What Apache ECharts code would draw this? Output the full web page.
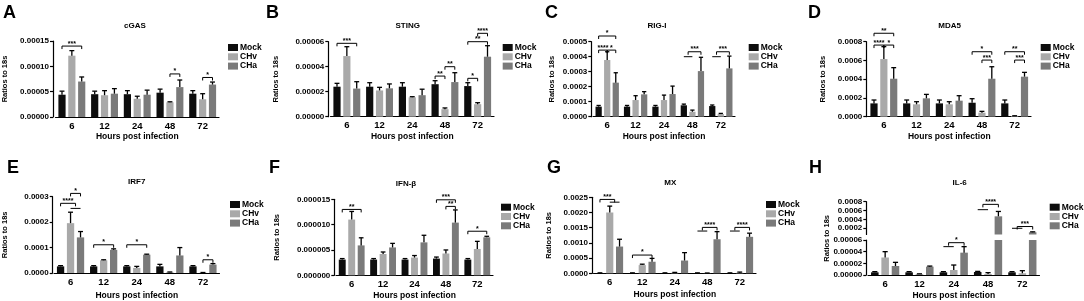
<!DOCTYPE html>
<html><head><meta charset="utf-8">
<script src="https://cdn.jsdelivr.net/npm/echarts@6/dist/echarts.min.js"></script>
<style>html,body{margin:0;padding:0;background:#fff}#c{width:1084px;height:301px}</style>
</head><body><div id="c"></div>
<script>
// ---------- DATA ----------
const categories = ['6', '12', '24', '48', '72'];
const groups = ['Mock', 'CHv', 'CHa'];
const xName = 'Hours post infection';
const yName = 'Ratios to 18s';

// rows: Mock, CHv, CHa ; columns: 6,12,24,48,72 h
const cGAS_means = [[0.000044,0.000045,0.000045,0.000048,0.000046],[0.000121,0.000043,0.000036,0.000029,0.000035],[0.000070,0.000046,0.000044,0.000059,0.000064]];
const cGAS_upper = [[0.000051,0.000051,0.000052,0.000055,0.000052],[0.000131,0.000052,0.000041,0.000030,0.000046],[0.000079,0.000056,0.000053,0.000073,0.000069]];
const cGAS_sig = [[0,0,2,0.00014,'***'],[3,1,2,0.000085,'*'],[4,1,2,0.000078,'*']];
const cGAS_ticks = [0,0.00005,0.0001,0.00015];

const STING_means = [[0.000024,0.000024,0.000024,0.000026,0.0000245],[0.0000485,0.000021,0.0000155,0.000006,0.00001],[0.0000225,0.0000227,0.0000172,0.0000277,0.000048]];
const STING_upper = [[0.0000267,0.0000272,0.0000272,0.0000288,0.0000272],[0.000056,0.0000235,0.000016,0.000007,0.0000112],[0.000028,0.0000262,0.000022,0.0000352,0.0000568]];
const STING_sig = [[0,0,2,0.0000587,'***'],[3,0,1,0.0000325,'**'],[3,1,2,0.00004,'**'],[4,0,1,0.0000307,'*'],[4,0,2,0.00006,'**'],[4,1,2,0.0000667,'****']];
const STING_ticks = [0,0.00002,0.00004,0.00006];

const RIGI_means = [[0.000067,0.000067,0.000067,0.000076,0.000071],[0.000378,0.000111,0.000111,0.000033,0.000018],[0.000227,0.000149,0.000151,0.000304,0.000322]];
const RIGI_upper = [[0.000075,0.000075,0.000075,0.000084,0.000078],[0.000433,0.00014,0.000144,0.000044,0.000022],[0.000293,0.000167,0.000204,0.000396,0.000404]];
const RIGI_sig = [[0,0,1,0.000444,'****'],[0,1,2,0.000444,'*'],[0,0,2,0.000538,'*'],[3,0,1,0.0004,null],[3,0.5,2,0.000433,'***'],[4,0,1,0.0004,null],[4,0.5,2,0.000433,'***']];
const RIGI_ticks = [0,0.0001,0.0002,0.0003,0.0004,0.0005];

const MDA5_means = [[0.000142,0.000142,0.000142,0.000149,0.000142],[0.000615,0.000132,0.000132,0.000043,0.000007],[0.000405,0.000196,0.000171,0.000405,0.000427]];
const MDA5_upper = [[0.000178,0.000178,0.000178,0.000192,0.000178],[0.000747,0.00016,0.00016,0.000057,0.00001],[0.000523,0.000238,0.000224,0.000533,0.000473]];
const MDA5_sig = [[0,0,1,0.000764,'****'],[0,1,2,0.000764,'*'],[0,0,2,0.00089,'**'],[3,0,2,0.000693,'*'],[3,1,2,0.000604,'***'],[4,0,2,0.000693,'**'],[4,1,2,0.000604,'***']];
const MDA5_ticks = [0,0.0002,0.0004,0.0006,0.0008];

const IRF7_means = [[0.000026,0.000026,0.000026,0.000026,0.000026],[0.000196,0.00005,0.00002,0.000003,0.000001],[0.00014,0.000091,0.000072,0.000069,0.000033]];
const IRF7_upper = [[0.000029,0.000029,0.000029,0.000034,0.000029],[0.000239,0.000052,0.000026,0.000004,0.000002],[0.000163,0.000095,0.000074,0.0001,0.000037]];
const IRF7_sig = [[0,1,2,0.000313,'*'],[0,0,1.5,0.000274,'****'],[0,1,2,0.000254,null],[1,0,2,0.000111,'*'],[2,0,2,0.000111,'*'],[4,1,2,0.000052,'*']];
const IRF7_ticks = [0,0.0001,0.0002,0.0003];

const IFNB_means = [[0.0000031,0.0000031,0.0000031,0.0000033,0.0000031],[0.000011,0.0000042,0.0000035,0.0000043,0.0000052],[0.0000059,0.0000055,0.0000065,0.0000104,0.0000075]];
const IFNB_upper = [[0.0000033,0.0000033,0.0000033,0.0000036,0.0000033],[0.0000126,0.0000046,0.0000039,0.000005,0.0000067],[0.0000074,0.0000063,0.0000079,0.0000129,0.0000077]];
const IFNB_sig = [[0,0,2,0.000013,'**'],[3,0,2,0.0000149,'***'],[3,1,2,0.0000136,'**'],[4,0,2,0.0000087,'*']];
const IFNB_ticks = [0,0.000005,0.00001,0.000015];

const MX_means = [[0.00001,0.00001,0.00001,0.00001,0.00001],[0.002,0.00027,0.00002,0.000005,0.00002],[0.00088,0.00038,0.00042,0.00112,0.0012]];
const MX_upper = [[0.000015,0.000015,0.000015,0.000015,0.000015],[0.00221,0.0003,0.00003,0.00001,0.00004],[0.00112,0.00049,0.00068,0.00137,0.00132]];
const MX_sig = [[0,0,1.5,0.00243,'***'],[0,1,2,0.00234,null],[1,0,2,0.0006,'*'],[3,0,1,0.00139,null],[3,0.5,2,0.00151,'****'],[4,0,1,0.00139,null],[4,0.5,2,0.00151,'****']];
const MX_ticks = [0,0.0005,0.001,0.0015,0.002,0.0025];

const IL6_means = [[0.0000046,0.0000046,0.0000046,0.0000051,0.0000046],[0.00003,0.0000017,0.0000086,0.0000017,0.000003],[0.0000154,0.0000143,0.0000383,0.00047,0.00011]];
const IL6_upper = [[0.0000057,0.0000057,0.0000057,0.0000062,0.0000057],[0.00004,0.000002,0.0000171,0.000004,0.0000074],[0.0000217,0.0000153,0.0000486,0.00058,0.00012]];
const IL6_sig = [[2,0,1,0.0000486,null],[2,0.5,2,0.0000554,'*'],[3,0,1,0.00062,null],[3,0.5,2,0.00074,'****'],[4,0,1,0.0002,null],[4,0.5,2,0.00024,'***']];
const IL6_lowerTicks = [0,0.00002,0.00004,0.00006];
const IL6_upperTicks = [0.0002,0.0004,0.0006,0.0008];
const IL6_upperMin = 0.00006;

const panels = [
  {letter:'A', title:'cGAS', means:cGAS_means, upper:cGAS_upper, sig:cGAS_sig, ticks:cGAS_ticks, dec:5},
  {letter:'B', title:'STING', means:STING_means, upper:STING_upper, sig:STING_sig, ticks:STING_ticks, dec:5},
  {letter:'C', title:'RIG-I', means:RIGI_means, upper:RIGI_upper, sig:RIGI_sig, ticks:RIGI_ticks, dec:4},
  {letter:'D', title:'MDA5', means:MDA5_means, upper:MDA5_upper, sig:MDA5_sig, ticks:MDA5_ticks, dec:4},
  {letter:'E', title:'IRF7', means:IRF7_means, upper:IRF7_upper, sig:IRF7_sig, ticks:IRF7_ticks, dec:4},
  {letter:'F', title:'IFN-β', means:IFNB_means, upper:IFNB_upper, sig:IFNB_sig, ticks:IFNB_ticks, dec:6},
  {letter:'G', title:'MX', means:MX_means, upper:MX_upper, sig:MX_sig, ticks:MX_ticks, dec:4},
  {letter:'H', title:'IL-6', means:IL6_means, upper:IL6_upper, sig:IL6_sig, ticks:IL6_lowerTicks, dec:5,
   split:{min:IL6_upperMin, ticks:IL6_upperTicks, dec:4}}
];

// ---------- LAYOUT ----------
const layouts = [
  {ax:53,   left:55.5, right:219,   top:41,    bottom:117,   lx:228,    ly:43,    tx:135,   ty:26,  kx:3,   ky:4,   nx:5,   xg:15},
  {ax:328.3,left:330.5,right:494,   top:41.7,  bottom:116.7, lx:502.7,  ly:43,    tx:407.7, ty:26,  kx:266, ky:4,   nx:276, xg:15},
  {ax:591.3,left:593,  right:735,   top:41.7,  bottom:116.7, lx:748.7,  ly:43,    tx:657,   ty:26,  kx:545, ky:4,   nx:552, xg:15},
  {ax:866.3,left:867.5,right:1031,  top:41.7,  bottom:116.7, lx:1040.7, ly:43,    tx:949.7, ty:26,  kx:808, ky:4,   nx:823, xg:15},
  {ax:51.7, left:53,   right:219.5, top:196.7, bottom:273.3, lx:230,    ly:200,   tx:136.7, ty:182, kx:7,   ky:159, nx:4,   xg:18},
  {ax:334.3,left:336,  right:493,   top:199.3, bottom:276,   lx:501,    ly:202.7, tx:406,   ty:183.5,kx:269,ky:159, nx:277, xg:15.7},
  {ax:592,  left:593.5,right:756,   top:197.3, bottom:273.3, lx:766,    ly:200,   tx:670.3, ty:183, kx:547, ky:159, nx:549, xg:16.7},
  {ax:866.3,left:868,  right:1039.5,top:240,   bottom:275,   lx:1049.7, ly:202.7, tx:959.7, ty:183, kx:809, ky:159, nx:823, xg:15.7,
   upTop:201.7, upBottom:234.5}
];

const FONT = '"Liberation Sans", Arial, sans-serif';
const COLORS = ['#0d0d0d', '#a9a9a9', '#7a7a7a'];
const BAR_W = 0.22, BAR_GAP = 0.37;
const SP = BAR_W * (1 + BAR_GAP);

const option = {animation:false, textStyle:{fontFamily:FONT}, grid:[], xAxis:[], yAxis:[], series:[], legend:[], graphic:[]};

function xAxisCfg(gi, L, visible) {
  return {type:'category', gridIndex:gi, data:categories, show:visible,
    axisLine:{lineStyle:{color:'#000', width:1.2}}, axisTick:{show:false},
    axisLabel:{color:'#000', fontSize:9.5, fontWeight:'bold', margin:4},
    name: visible ? xName : '', nameLocation:'middle', nameGap:L.xg,
    nameTextStyle:{color:'#000', fontSize:8.5, fontWeight:'bold', verticalAlign:'top'}};
}
function yAxisCfg(gi, L, ticks, dec, withName) {
  return {type:'value', gridIndex:gi, min:ticks[0], max:ticks[ticks.length-1], interval:ticks[1]-ticks[0],
    offset: L.left - L.ax, splitLine:{show:false},
    axisLine:{show:true, lineStyle:{color:'#000', width:1.2}},
    axisTick:{show:true, length:3, lineStyle:{color:'#000', width:1.2}},
    axisLabel:{color:'#000', fontSize:8, fontWeight:'bold', margin:4, formatter:v => v.toFixed(dec)},
    name: withName ? yName : '', nameLocation:'middle', nameGap: L.ax - L.nx - 4,
    nameTextStyle:{color:'#000', fontSize:7.5, fontWeight:'bold'}};
}

function errRender(list) {
  return function(params, api) {
    const d = list[params.dataIndex];
    const band = api.size([1, 0])[0];
    const c = api.coord([d[0], d[2]]);
    const t = api.coord([d[0], d[3]]);
    const x = c[0] + (d[1] - 1) * band * SP;
    const cw = band * 0.075;
    return {type:'group', children:[
      {type:'line', shape:{x1:x, y1:c[1], x2:x, y2:t[1]}, style:{stroke:'#000', lineWidth:1.3}},
      {type:'line', shape:{x1:x-cw, y1:t[1], x2:x+cw, y2:t[1]}, style:{stroke:'#000', lineWidth:1.3}}
    ]};
  };
}
function sigRender(list) {
  return function(params, api) {
    const b = list[params.dataIndex];
    const band = api.size([1, 0])[0];
    const c = api.coord([b[0], b[3]]);
    const x1 = c[0] + (b[1] - 1) * band * SP;
    const x2 = c[0] + (b[2] - 1) * band * SP;
    const y = c[1];
    const children = [];
    if (b[4]) {
      children.push({type:'polyline', shape:{points:[[x1, y+3],[x1, y],[x2, y],[x2, y+3]]}, style:{stroke:'#000', lineWidth:1, fill:null}});
      children.push({type:'text', x:(x1+x2)/2, y:y-2.5, style:{text:b[4], align:'center', verticalAlign:'middle', fontSize:7, fontWeight:'bold', fontFamily:FONT, fill:'#000'}});
    } else {
      children.push({type:'line', shape:{x1:x1, y1:y, x2:x2, y2:y}, style:{stroke:'#000', lineWidth:1}});
    }
    return {type:'group', children};
  };
}

function addSeries(gi, p, barOk, pointOk) {
  groups.forEach((g, k) => {
    option.series.push({type:'bar', name:g, xAxisIndex:gi, yAxisIndex:gi,
      data:p.means[k].map(v => barOk(v) ? v : '-'),
      barWidth:(BAR_W*100)+'%', barGap:(BAR_GAP*100)+'%', itemStyle:{color:COLORS[k]}, silent:true, z:2});
  });
  const errs = [];
  groups.forEach((g, k) => p.means[k].forEach((m, c) => { if (pointOk(m)) errs.push([c, k, m, p.upper[k][c]]); }));
  option.series.push({type:'custom', xAxisIndex:gi, yAxisIndex:gi, renderItem:errRender(errs),
    data:errs.map(e => [e[0], e[3]]), encode:{x:0, y:1}, silent:true, z:3});
  const sigs = p.sig.filter(b => pointOk(b[3]));
  option.series.push({type:'custom', xAxisIndex:gi, yAxisIndex:gi, renderItem:sigRender(sigs),
    data:sigs.map(b => [b[0], b[3]]), encode:{x:0, y:1}, silent:true, z:4, clip:false});
}

panels.forEach((p, i) => {
  const L = layouts[i];
  if (!p.split) {
    const gi = option.grid.length;
    option.grid.push({left:L.left, top:L.top, width:L.right-L.left, height:L.bottom-L.top});
    option.xAxis.push(xAxisCfg(gi, L, true));
    option.yAxis.push(yAxisCfg(gi, L, p.ticks, p.dec, true));
    addSeries(gi, p, () => true, () => true);
  } else {
    const S = p.split;
    // upper segment
    const gu = option.grid.length;
    option.grid.push({left:L.left, top:L.upTop, width:L.right-L.left, height:L.upBottom-L.upTop});
    option.xAxis.push(xAxisCfg(gu, L, false));
    const ya = yAxisCfg(gu, L, S.ticks, S.dec, false);
    ya.min = S.min; ya.max = S.ticks[S.ticks.length-1]; delete ya.interval;
    ya.axisLabel.customValues = S.ticks; ya.axisTick.customValues = S.ticks;
    option.yAxis.push(ya);
    addSeries(gu, p, v => v > S.min, v => v > S.min);
    // lower segment
    const gl = option.grid.length;
    option.grid.push({left:L.left, top:L.top, width:L.right-L.left, height:L.bottom-L.top});
    option.xAxis.push(xAxisCfg(gl, L, true));
    option.yAxis.push(yAxisCfg(gl, L, p.ticks, p.dec, false));
    addSeries(gl, p, () => true, v => v <= S.min);
    option.graphic.push({type:'text', x:L.nx + 4, y:(L.upTop + L.bottom)/2, rotation:Math.PI/2,
      style:{text:yName, align:'center', verticalAlign:'middle', fontSize:7.5, fontWeight:'bold', fontFamily:FONT, fill:'#000'}});
  }
  option.legend.push({orient:'vertical', left:L.lx, top:L.ly, padding:0, itemWidth:10, itemHeight:7, itemGap:0.3,
    icon:'rect', data:groups, selectedMode:false,
    textStyle:{fontSize:8.5, fontWeight:'bold', color:'#000', lineHeight:8, fontFamily:FONT, padding:[0,0,0,-3]}});
  option.graphic.push({type:'text', x:L.tx, y:L.ty,
    style:{text:p.title, align:'center', verticalAlign:'middle', fontSize:8, fontWeight:'bold', fontFamily:FONT, fill:'#000'}});
  option.graphic.push({type:'text', x:L.kx, y:L.ky,
    style:{text:p.letter, align:'left', verticalAlign:'top', fontSize:18, fontWeight:'bold', fontFamily:FONT, fill:'#000'}});
});

const chart = echarts.init(document.getElementById('c'), null, {renderer:'canvas'});
chart.setOption(option);
</script></body></html>
